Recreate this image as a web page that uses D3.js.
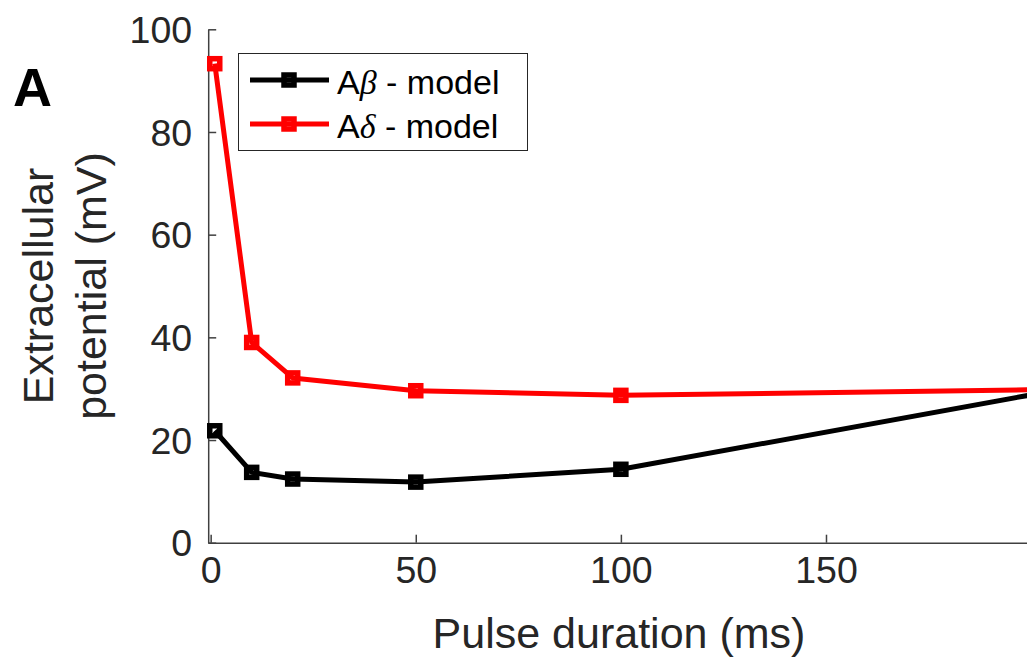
<!DOCTYPE html>
<html>
<head>
  <title>Extracellular potential vs pulse duration</title>
  <meta charset="utf-8">
  <style>
  body { margin: 0; background: #fff; }
  svg { display: block; font-family: "Liberation Sans", Arial, sans-serif; }
  .axis path, .axis line { stroke: #404040; stroke-width: 1.5px; }
  .axis text { fill: #262626; font-size: 37.5px; font-family: "Liberation Sans", Arial, sans-serif; }
  .label { fill: #262626; font-size: 43px; }
  </style>
</head>
<body>
<svg width="1027" height="661"></svg>
<script src="https://d3js.org/d3.v7.min.js"></script>
<script>

// pulse duration (ms)
var durations = [1, 10, 20, 50, 100, 200];
var abetaValues = [21.8, 13.7, 12.4, 11.8, 14.3, 28.8];
var adeltaValues = [93.3, 39.0, 32.1, 29.6, 28.7, 29.8];
var xTicks = [0, 50, 100, 150];
var yTicks = [0, 20, 40, 60, 80, 100];

var series = [
  { name: "\u03b2", values: abetaValues, color: "#000000" },
  { name: "\u03b4", values: adeltaValues, color: "#ff0000" }
];

var svg = d3.select("svg");

var x = d3.scaleLinear().domain([-0.6, 200]).range([208.2, 1031.1]);
var y = d3.scaleLinear().domain([0, 100]).range([542.7, 29.3]);

// markers past the visible edge of the figure are cut off
svg.append("clipPath")
    .attr("id", "markclip")
  .append("rect")
    .attr("x", 0).attr("y", 0)
    .attr("width", 1020).attr("height", 661);

// axes, ticks pointing inward like matlab
svg.append("g")
    .attr("class", "axis")
    .attr("transform", "translate(0," + y(0) + ")")
    .call(d3.axisBottom(x).tickValues(xTicks).tickSizeInner(-8).tickSizeOuter(0).tickPadding(14))
    .selectAll("text")
      .attr("dy", "0.71em");

svg.append("g")
    .attr("class", "axis")
    .attr("transform", "translate(" + x(-0.6) + ",0)")
    .call(d3.axisLeft(y).tickValues(yTicks).tickSizeInner(-8).tickSizeOuter(0).tickPadding(16))
    .selectAll("text")
      .attr("dy", "0.35em");

var line = d3.line()
    .x(function(d, i) { return x(durations[i]); })
    .y(function(d) { return y(d); });

series.forEach(function(s) {
  svg.append("path")
      .datum(s.values)
      .attr("fill", "none")
      .attr("stroke", s.color)
      .attr("stroke-width", 5)
      .attr("stroke-linejoin", "round")
      .attr("d", line);

  svg.append("g")
      .attr("clip-path", "url(#markclip)")
    .selectAll("rect")
    .data(s.values)
    .enter().append("rect")
      .attr("x", function(d, i) { return x(durations[i]) - 5; })
      .attr("y", function(d) { return y(d) - 5; })
      .attr("width", 10)
      .attr("height", 10)
      .attr("fill", "none")
      .attr("stroke", s.color)
      .attr("stroke-width", 5.5);
});

// legend
var legend = svg.append("g");
legend.append("rect")
    .attr("x", 238.5).attr("y", 53.5)
    .attr("width", 289).attr("height", 97)
    .attr("fill", "#fff")
    .attr("stroke", "#262626")
    .attr("stroke-width", 1);

series.forEach(function(s, i) {
  var ly = 80 + i * 44;
  legend.append("line")
      .attr("x1", 250).attr("x2", 329)
      .attr("y1", ly).attr("y2", ly)
      .attr("stroke", s.color)
      .attr("stroke-width", 5);
  legend.append("rect")
      .attr("x", 284).attr("y", ly - 5)
      .attr("width", 10).attr("height", 10)
      .attr("fill", "none")
      .attr("stroke", s.color)
      .attr("stroke-width", 5.5);
  var t = legend.append("text")
      .attr("x", 337).attr("y", ly)
      .attr("dy", "0.42em")
      .attr("font-size", 34)
      .attr("fill", "#000");
  t.append("tspan").text("A");
  t.append("tspan")
      .attr("font-family", "'Liberation Serif', 'DejaVu Serif', serif")
      .attr("font-style", "italic")
      .text(s.name);
  t.append("tspan").text(" - model");
});

// axis labels
svg.append("text")
    .attr("class", "label")
    .attr("x", 619).attr("y", 648)
    .attr("text-anchor", "middle")
    .text("Pulse duration (ms)");

var ylab = svg.append("text")
    .attr("class", "label")
    .attr("text-anchor", "middle")
    .attr("transform", "translate(53,286) rotate(-90)");
ylab.append("tspan").attr("x", 0).attr("y", 0).text("Extracellular");
ylab.append("tspan").attr("x", 0).attr("y", 53).text("potential (mV)");

svg.append("text")
    .attr("x", 13).attr("y", 106)
    .attr("font-size", 54)
    .attr("font-weight", "bold")
    .attr("fill", "#000")
    .text("A");

</script>
</body>
</html>
